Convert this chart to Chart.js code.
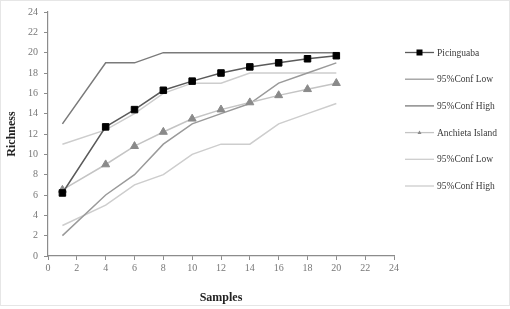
<!DOCTYPE html>
<html>
<head>
<meta charset="utf-8">
<script src="https://cdn.jsdelivr.net/npm/chart.js@4/dist/chart.umd.min.js"></script>
<style>
html,body{margin:0;padding:0;background:#fff;}
#wrap{width:510px;height:309px;position:relative;}
</style>
</head>
<body>
<div id="wrap"><canvas id="c" width="510" height="309"></canvas></div>
<script>
const samples = [1, 4, 6, 8, 10, 12, 14, 16, 18, 20];
const picinguaba = [6.2, 12.7, 14.4, 16.3, 17.2, 18.0, 18.6, 19.0, 19.4, 19.7];
const picLow = [2, 6, 8, 11, 13, 14, 15, 17, 18, 19];
const picHigh = [13, 19, 19, 20, 20, 20, 20, 20, 20, 20];
const anchieta = [6.5, 9.0, 10.8, 12.2, 13.5, 14.4, 15.1, 15.8, 16.4, 17.0];
const ancLow = [3, 5, 7, 8, 10, 11, 11, 13, 14, 15];
const ancHigh = [11, 12.4, 14, 16, 17, 17, 18, 18, 18, 18];
const xTicks = [0, 2, 4, 6, 8, 10, 12, 14, 16, 18, 20, 22, 24];
const yTicks = [0, 2, 4, 6, 8, 10, 12, 14, 16, 18, 20, 22, 24];
const legendLabels = ['Picinguaba', '95%Conf Low', '95%Conf High', 'Anchieta Island', '95%Conf Low', '95%Conf High'];

const pts = arr => samples.map((x, i) => ({x: x, y: arr[i]}));

const serif = '"Liberation Serif", "DejaVu Serif", serif';

const datasets = [
  {label: legendLabels[0], data: pts(picinguaba), borderColor: '#5a5a5a', borderWidth: 1.5,
   pointStyle: 'rect', pointRadius: 4.6, pointBackgroundColor: '#000', pointBorderColor: '#000', pointBorderWidth: 1, order: 0},
  {label: legendLabels[1], data: pts(picLow), borderColor: '#9a9a9a', borderWidth: 1.5, pointRadius: 0, order: 3},
  {label: legendLabels[2], data: pts(picHigh), borderColor: '#7a7a7a', borderWidth: 1.5, pointRadius: 0, order: 3},
  {label: legendLabels[3], data: pts(anchieta), borderColor: '#c4c4c4', borderWidth: 1.5,
   pointStyle: 'triangle', pointRadius: 4.6, pointBackgroundColor: '#8a8a8a', pointBorderColor: '#8a8a8a', pointBorderWidth: 1, order: 1},
  {label: legendLabels[4], data: pts(ancLow), borderColor: '#cdcdcd', borderWidth: 1.5, pointRadius: 0, order: 3},
  {label: legendLabels[5], data: pts(ancHigh), borderColor: '#cdcdcd', borderWidth: 1.5, pointRadius: 0, order: 3}
];

const legendPlugin = {
  id: 'customLegend',
  afterDraw(chart) {
    const ctx = chart.ctx;
    const ds = chart.data.datasets;
    const x0 = 405, x1 = 434, tx = 437;
    const y0 = 52.5, dy = 26.7;
    ctx.save();
    ds.forEach((d, i) => {
      const y = y0 + i * dy;
      ctx.strokeStyle = d.borderColor;
      ctx.lineWidth = 1.3;
      ctx.beginPath(); ctx.moveTo(x0, y); ctx.lineTo(x1, y); ctx.stroke();
      if (d.pointRadius > 0) {
        const cx = (x0 + x1) / 2;
        ctx.fillStyle = d.pointBackgroundColor;
        if (d.pointStyle === 'rect') {
          ctx.fillRect(cx - 3, y - 3, 6, 6);
        } else {
          ctx.beginPath(); ctx.moveTo(cx, y - 2.2); ctx.lineTo(cx + 2, y + 1.4); ctx.lineTo(cx - 2, y + 1.4); ctx.closePath(); ctx.fill();
        }
      }
      ctx.fillStyle = '#3a3a3a';
      ctx.font = '9.5px ' + serif;
      ctx.textAlign = 'left';
      ctx.textBaseline = 'middle';
      ctx.fillText(d.label, tx, y + 0.5);
    });
    ctx.strokeStyle = '#e6e6e6';
    ctx.lineWidth = 1;
    ctx.strokeRect(0.5, 0.5, 509, 305);
    ctx.restore();
  }
};

new Chart(document.getElementById('c'), {
  type: 'line',
  data: {datasets: datasets},
  options: {
    responsive: false,
    animation: false,
    events: [],
    layout: {padding: {left: 0, top: 10, right: 116, bottom: 0}},
    elements: {line: {tension: 0}},
    plugins: {legend: {display: false}, tooltip: {enabled: false}},
    scales: {
      x: {
        type: 'linear', min: 0, max: 24,
        afterFit(s) { s.height = 53; },
        afterBuildTicks(s) { s.ticks = xTicks.map(v => ({value: v})); },
        grid: {drawOnChartArea: false, drawTicks: true, tickLength: 4, color: '#8c8c8c', lineWidth: 1},
        border: {color: '#8c8c8c', width: 1.2},
        ticks: {color: '#777', font: {family: serif, size: 10}, padding: 2, maxRotation: 0, autoSkip: false},
        title: {display: true, text: 'Samples', color: '#222', font: {family: serif, size: 12, weight: 'bold'}, padding: {top: 0, bottom: 4}}
      },
      y: {
        type: 'linear', min: 0, max: 24,
        afterFit(s) { s.width = 48; },
        afterBuildTicks(s) { s.ticks = yTicks.map(v => ({value: v})); },
        grid: {drawOnChartArea: false, drawTicks: true, tickLength: 4, color: '#8c8c8c', lineWidth: 1},
        border: {color: '#8c8c8c', width: 1.2},
        ticks: {color: '#777', font: {family: serif, size: 10}, padding: 6, autoSkip: false},
        title: {display: true, text: 'Richness', color: '#222', font: {family: serif, size: 12, weight: 'bold'}, padding: {top: 5, bottom: 0}}
      }
    }
  },
  plugins: [legendPlugin]
});
</script>
</body>
</html>
